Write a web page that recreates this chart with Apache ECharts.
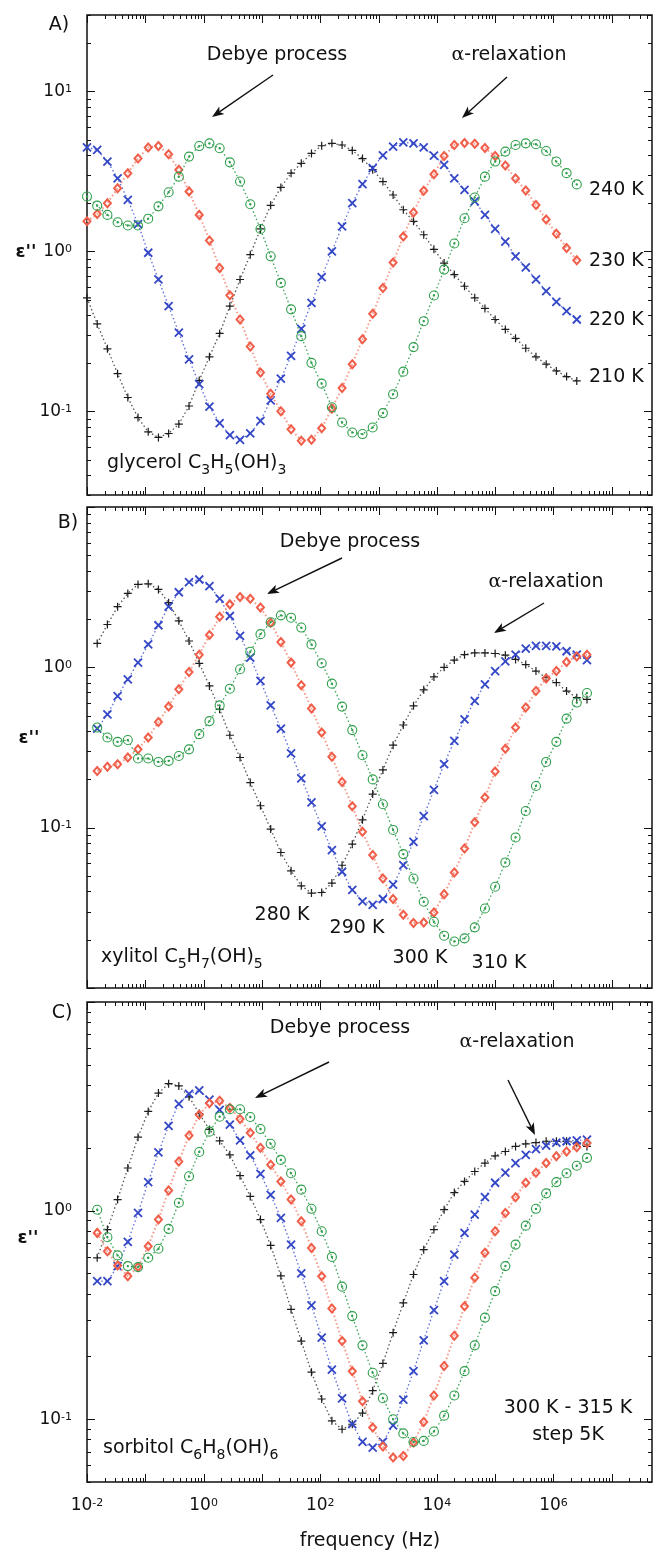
<!DOCTYPE html>
<html>
<head>
<meta charset="utf-8">
<title>dielectric loss of polyalcohols</title>
<script src="https://cdn.jsdelivr.net/npm/echarts@6/dist/echarts.min.js"></script>
<style>
html, body { margin: 0; padding: 0; background: #fff; }
#chart { width: 654px; height: 1552px; }
</style>
</head>
<body>
<div id="chart"></div>
<script>
// measured frequencies (Hz), same grid for every run
const freq = [0.01, 0.01496, 0.02239, 0.0335, 0.05012, 0.07499, 0.1122, 0.1679, 0.2512, 0.3758,
  0.5623, 0.8414, 1.259, 1.884, 2.818, 4.217, 6.31, 9.441, 14.13, 21.13,
  31.62, 47.32, 70.79, 105.9, 158.5, 237.1, 354.8, 530.9, 794.3, 1189,
  1778, 2661, 3981, 5957, 8913, 13340, 19950, 29850, 44670, 66830,
  100000, 149600, 223900, 335000, 501200, 749900, 1122000, 1679000, 2512000, 3758000]
const freqA = freq.slice(0, 49)
const freqBC = freq.slice(1, 50)

// A) glycerol
const glycerol210 = [0.512, 0.352, 0.246, 0.172, 0.122, 0.0914, 0.0745, 0.0687, 0.0727, 0.0832, 0.108, 0.156, 0.219, 0.307, 0.454, 0.667, 0.953, 1.38, 1.94, 2.51, 3.08, 3.55, 4.09, 4.57, 4.73, 4.62, 4.27, 3.80, 3.24, 2.73, 2.25, 1.82, 1.54, 1.27, 1.03, 0.845, 0.716, 0.605, 0.512, 0.44, 0.375, 0.325, 0.286, 0.248, 0.219, 0.197, 0.179, 0.165, 0.155]
const glycerol220 = [4.47, 4.31, 3.64, 2.86, 2.10, 1.48, 0.98, 0.667, 0.454, 0.31, 0.211, 0.148, 0.107, 0.0843, 0.071, 0.0664, 0.0728, 0.0873, 0.117, 0.16, 0.222, 0.328, 0.476, 0.689, 1.0, 1.43, 2.0, 2.63, 3.31, 3.98, 4.51, 4.80, 4.73, 4.47, 3.96, 3.47, 2.86, 2.42, 2.05, 1.69, 1.38, 1.15, 0.931, 0.794, 0.667, 0.564, 0.483, 0.423, 0.375]
const glycerol230 = [1.54, 1.71, 2.0, 2.48, 3.08, 3.81, 4.45, 4.55, 4.04, 3.23, 2.37, 1.69, 1.17, 0.787, 0.532, 0.375, 0.254, 0.175, 0.129, 0.1, 0.0774, 0.0655, 0.0664, 0.0785, 0.104, 0.14, 0.197, 0.282, 0.407, 0.59, 0.853, 1.24, 1.75, 2.39, 3.03, 3.94, 4.62, 4.75, 4.70, 4.42, 3.94, 3.44, 2.85, 2.40, 1.95, 1.58, 1.29, 1.05, 0.881]
const glycerol240 = [2.20, 1.93, 1.69, 1.52, 1.45, 1.45, 1.60, 1.91, 2.34, 2.93, 3.91, 4.55, 4.73, 4.41, 3.60, 2.73, 1.97, 1.38, 0.931, 0.635, 0.434, 0.295, 0.201, 0.149, 0.106, 0.0851, 0.0738, 0.0721, 0.0793, 0.0975, 0.128, 0.177, 0.252, 0.366, 0.53, 0.769, 1.12, 1.61, 2.17, 2.93, 3.64, 4.20, 4.62, 4.73, 4.67, 4.24, 3.64, 3.08, 2.62]

// B) xylitol
const xylitol280 = [1.41, 1.85, 2.39, 2.89, 3.29, 3.32, 3.06, 2.53, 1.95, 1.46, 1.06, 0.766, 0.547, 0.377, 0.274, 0.191, 0.137, 0.098, 0.07, 0.0538, 0.0434, 0.0391, 0.0394, 0.0451, 0.0583, 0.0789, 0.112, 0.162, 0.229, 0.327, 0.437, 0.575, 0.724, 0.871, 1.0, 1.11, 1.2, 1.23, 1.23, 1.22, 1.19, 1.12, 1.04, 0.948, 0.863, 0.803, 0.711, 0.647, 0.631]
const xylitol290 = [0.415, 0.509, 0.662, 0.841, 1.07, 1.39, 1.83, 2.39, 2.94, 3.40, 3.53, 3.21, 2.68, 2.09, 1.57, 1.15, 0.822, 0.579, 0.415, 0.291, 0.203, 0.144, 0.102, 0.0724, 0.0531, 0.0409, 0.0347, 0.033, 0.0359, 0.0441, 0.0583, 0.0815, 0.118, 0.172, 0.249, 0.348, 0.474, 0.617, 0.783, 0.948, 1.09, 1.2, 1.31, 1.36, 1.36, 1.35, 1.26, 1.2, 1.11]
const xylitol300 = [0.226, 0.24, 0.249, 0.274, 0.308, 0.365, 0.456, 0.569, 0.73, 0.936, 1.2, 1.59, 2.07, 2.47, 2.75, 2.68, 2.36, 1.9, 1.44, 1.07, 0.773, 0.553, 0.392, 0.277, 0.193, 0.136, 0.0942, 0.0675, 0.0482, 0.0359, 0.0286, 0.0254, 0.0256, 0.0296, 0.0385, 0.0526, 0.0741, 0.108, 0.154, 0.224, 0.311, 0.421, 0.561, 0.711, 0.851, 0.948, 1.08, 1.17, 1.2]
const xylitol310 = [0.421, 0.365, 0.343, 0.352, 0.27, 0.27, 0.257, 0.261, 0.28, 0.308, 0.383, 0.462, 0.579, 0.736, 0.973, 1.25, 1.61, 1.91, 2.11, 2.04, 1.77, 1.39, 1.06, 0.791, 0.569, 0.406, 0.283, 0.2, 0.14, 0.0968, 0.0684, 0.0482, 0.0345, 0.0259, 0.0212, 0.0195, 0.0204, 0.0239, 0.0313, 0.0428, 0.0607, 0.0869, 0.127, 0.182, 0.257, 0.343, 0.479, 0.603, 0.692]

// C) sorbitol, 300 K - 315 K step 5 K
const sorbitol300 = [0.594, 0.811, 1.13, 1.60, 2.25, 2.99, 3.66, 4.06, 3.96, 3.51, 2.92, 2.45, 2.16, 1.85, 1.47, 1.17, 0.906, 0.681, 0.487, 0.336, 0.237, 0.168, 0.125, 0.0982, 0.0895, 0.0946, 0.107, 0.137, 0.185, 0.26, 0.361, 0.494, 0.65, 0.811, 1.01, 1.22, 1.38, 1.54, 1.69, 1.83, 1.92, 2.03, 2.09, 2.12, 2.15, 2.15, 2.15, 2.11, 2.03]
const sorbitol305 = [0.459, 0.459, 0.542, 0.708, 0.975, 1.37, 1.90, 2.55, 3.25, 3.63, 3.77, 3.40, 3.04, 2.58, 2.17, 1.84, 1.50, 1.19, 0.923, 0.687, 0.5, 0.351, 0.246, 0.173, 0.126, 0.0946, 0.0778, 0.0731, 0.0778, 0.0935, 0.124, 0.17, 0.239, 0.333, 0.459, 0.615, 0.782, 0.957, 1.16, 1.36, 1.52, 1.69, 1.85, 1.97, 2.05, 2.12, 2.15, 2.17, 2.19]
const sorbitol310 = [0.782, 0.638, 0.546, 0.485, 0.536, 0.675, 0.906, 1.25, 1.72, 2.29, 2.88, 3.27, 3.36, 3.10, 2.75, 2.36, 2.0, 1.66, 1.38, 1.13, 0.889, 0.662, 0.485, 0.339, 0.237, 0.17, 0.122, 0.0912, 0.074, 0.0655, 0.0667, 0.0773, 0.097, 0.13, 0.18, 0.251, 0.348, 0.476, 0.628, 0.796, 0.975, 1.16, 1.36, 1.52, 1.69, 1.82, 1.92, 2.01, 2.11]
const sorbitol315 = [1.01, 0.745, 0.61, 0.542, 0.536, 0.594, 0.656, 0.817, 1.09, 1.46, 1.91, 2.39, 2.82, 3.06, 3.06, 2.81, 2.46, 2.09, 1.75, 1.51, 1.26, 1.02, 0.796, 0.6, 0.432, 0.312, 0.226, 0.167, 0.126, 0.1, 0.0855, 0.0778, 0.0787, 0.0873, 0.104, 0.13, 0.17, 0.226, 0.307, 0.411, 0.542, 0.687, 0.847, 1.02, 1.21, 1.37, 1.51, 1.64, 1.79]

// axis ranges and labelled decades
const xRange = [0.01, 4.9e7]
const xLabelExp = [-2, 0, 2, 4, 6]
const yRanges = [[0.03, 30], [0.01, 10], [0.05, 10]]
const yLabelExp = [[-1, 0, 1], [-1, 0], [-1, 0]]

const FONT = '"DejaVu Sans", sans-serif'
const grids = [
  { left: 87, right: 2, top: 15, height: 480 },
  { left: 87, right: 2, top: 507, height: 481 },
  { left: 87, right: 2, top: 1002, height: 480 }
]

const markers = [
  { symbol: 'path://M5,0L5,10M0,5L10,5', size: 8, color: '#1c1c1c', line: '#555', bw: 1.2, lw: 1.3 },
  { symbol: 'path://M0,0L10,10M10,0L0,10', size: 8, color: '#3346c6', line: '#5d6cd8', bw: 1.8, lw: 1.3 },
  { symbol: 'diamond', size: [7, 8], color: '#f05e4a', line: '#f59a8a', bw: 2, lw: 2 },
  { symbol: 'path://M10,5A5,5 0 1 1 0,5A5,5 0 1 1 10,5ZM5.7,5A0.7,0.7 0 1 1 4.3,5A0.7,0.7 0 1 1 5.7,5Z', size: 9, color: '#2e9e4a', line: '#3aa356', bw: 1.1, lw: 1.3 }
]

function curve(name, freqs, vals, gi, m) {
  const mk = markers[m]
  return {
    name: name,
    type: 'line',
    xAxisIndex: gi,
    yAxisIndex: gi,
    data: freqs.map((f, i) => [f, vals[i]]),
    symbol: mk.symbol,
    symbolSize: mk.size,
    showAllSymbol: true,
    itemStyle: { color: 'rgba(0,0,0,0)', borderColor: mk.color, borderWidth: mk.bw },
    lineStyle: { color: mk.line, width: mk.lw, type: [1.5, 2.5] },
    emphasis: { disabled: true },
    animation: false,
    z: 2 + m
  }
}

// log ticks (decade + 2..9) drawn on all four sides
function tickData(yr) {
  const out = []
  for (let e = -3; e <= 8; e++) {
    for (let k = 1; k <= 9; k++) {
      const v = +(k * Math.pow(10, e)).toPrecision(6)
      if (v >= xRange[0] && v <= xRange[1]) out.push([v, 1, k === 1 ? 1 : 2])
      if (v >= yr[0] && v <= yr[1]) out.push([1, v, k === 1 ? 3 : 4])
    }
  }
  return out
}

function renderTick(params, api) {
  const cs = params.coordSys
  const kind = api.value(2)
  const pt = api.coord([api.value(0), api.value(1)])
  const style = { stroke: '#111', lineWidth: 1 }
  const len = kind === 1 || kind === 3 ? 8 : 4
  if (kind <= 2) {
    const x = Math.round(pt[0]) + 0.5
    const b = cs.y + cs.height
    return { type: 'group', children: [
      { type: 'line', shape: { x1: x, y1: b, x2: x, y2: b - len }, style: style },
      { type: 'line', shape: { x1: x, y1: cs.y, x2: x, y2: cs.y + len }, style: style }
    ] }
  }
  const y = Math.round(pt[1]) + 0.5
  const r = cs.x + cs.width
  return { type: 'group', children: [
    { type: 'line', shape: { x1: cs.x, y1: y, x2: cs.x + len, y2: y }, style: style },
    { type: 'line', shape: { x1: r, y1: y, x2: r - len, y2: y }, style: style }
  ] }
}

function powFormatter(exps) {
  return function (v) {
    const lg = Math.log10(v)
    const e = Math.round(lg)
    if (Math.abs(lg - e) > 1e-6 || exps.indexOf(e) < 0) return ''
    return '{b|10}{s|' + e + '}'
  }
}
const powRich = {
  b: { fontSize: 17, fontFamily: FONT, color: '#111', lineHeight: 16 },
  s: { fontSize: 11, fontFamily: FONT, color: '#111', lineHeight: 10, verticalAlign: 'top' }
}

function arrow(x1, y1, x2, y2) {
  const a = Math.atan2(y2 - y1, x2 - x1)
  const L = 12
  const W = 4.5
  const bx = x2 - L * Math.cos(a)
  const by = y2 - L * Math.sin(a)
  const nx = -Math.sin(a) * W
  const ny = Math.cos(a) * W
  return [
    { type: 'line', z: 100, shape: { x1: x1, y1: y1, x2: bx + Math.cos(a) * 3, y2: by + Math.sin(a) * 3 }, style: { stroke: '#111', lineWidth: 1.4 } },
    { type: 'polygon', z: 100, shape: { points: [[x2, y2], [bx + nx, by + ny], [bx + Math.cos(a) * 3, by + Math.sin(a) * 3], [bx - nx, by - ny]] }, style: { fill: '#111' } }
  ]
}

const subRich = {
  s: { fontSize: 14, lineHeight: 12, verticalAlign: 'bottom', fontFamily: FONT, fill: '#111' },
  g: { fontSize: 19, fontFamily: '"DejaVu Serif", serif', fill: '#111' }
}
function label(text, x, y, extra) {
  return {
    type: 'text', x: x, y: y, z: 100,
    style: Object.assign({
      text: text, fill: '#111', fontSize: 19, fontFamily: FONT, lineHeight: 28,
      align: 'center', verticalAlign: 'middle', textAlign: 'center', textVerticalAlign: 'middle',
      rich: subRich
    }, extra || {})
  }
}
const leftAlign = { align: 'left', textAlign: 'left' }

const tempsA = ['240 K', '230 K', '220 K', '210 K']
const tempsB = ['280 K', '290 K', '300 K', '310 K']

const graphics = [
  label('A)', 59, 25),
  label('B)', 68, 523),
  label('C)', 62, 1013),
  label("ε''", 26, 252, { fontWeight: 'bold', fontSize: 18 }),
  label("ε''", 29, 738, { fontWeight: 'bold', fontSize: 18 }),
  label("ε''", 28, 1238, { fontWeight: 'bold', fontSize: 18 }),

  label('Debye process', 277, 55),
  label('{g|α}-relaxation', 509, 55),
  label(tempsA[0], 589, 190, leftAlign),
  label(tempsA[1], 589, 261, leftAlign),
  label(tempsA[2], 589, 320, leftAlign),
  label(tempsA[3], 589, 377, leftAlign),
  label('glycerol C{s|3}H{s|5}(OH){s|3}', 107, 463, leftAlign),

  label('Debye process', 350, 542),
  label('{g|α}-relaxation', 546, 582),
  label(tempsB[0], 282, 915),
  label(tempsB[1], 357, 928),
  label(tempsB[2], 420, 958),
  label(tempsB[3], 499, 963),
  label('xylitol C{s|5}H{s|7}(OH){s|5}', 101, 957, leftAlign),

  label('Debye process', 340, 1028),
  label('{g|α}-relaxation', 517, 1042),
  label('300 K - 315 K', 568, 1408),
  label('step 5K', 568, 1435),
  label('sorbitol C{s|6}H{s|8}(OH){s|6}', 103, 1448, leftAlign),
  label('frequency (Hz)', 370, 1541)
].concat(
  arrow(273, 75, 212, 117),
  arrow(507, 77, 462, 118),
  arrow(342, 558, 267, 594),
  arrow(544, 603, 494, 633),
  arrow(329, 1062, 255, 1098),
  arrow(508, 1080, 535, 1135)
)

const series = [
  curve('210 K', freqA, glycerol210, 0, 0),
  curve('220 K', freqA, glycerol220, 0, 1),
  curve('230 K', freqA, glycerol230, 0, 2),
  curve('240 K', freqA, glycerol240, 0, 3),
  curve('280 K', freqBC, xylitol280, 1, 0),
  curve('290 K', freqBC, xylitol290, 1, 1),
  curve('300 K', freqBC, xylitol300, 1, 2),
  curve('310 K', freqBC, xylitol310, 1, 3),
  curve('300 K', freqBC, sorbitol300, 2, 0),
  curve('305 K', freqBC, sorbitol305, 2, 1),
  curve('310 K', freqBC, sorbitol310, 2, 2),
  curve('315 K', freqBC, sorbitol315, 2, 3)
]
yRanges.forEach((yr, gi) => {
  series.push({
    type: 'custom',
    xAxisIndex: gi,
    yAxisIndex: gi,
    silent: true,
    animation: false,
    encode: { x: 0, y: 1 },
    data: tickData(yr),
    renderItem: renderTick,
    z: 10
  })
})

const chart = echarts.init(document.getElementById('chart'), null, { renderer: 'canvas' })
chart.setOption({
  backgroundColor: '#ffffff',
  animation: false,
  grid: grids.map(g => Object.assign({
    show: true, borderColor: '#111', borderWidth: 1.5, backgroundColor: 'transparent',
    containLabel: false, outerBoundsMode: 'none'
  }, g)),
  xAxis: grids.map((g, gi) => ({
    type: 'log',
    logBase: 10,
    gridIndex: gi,
    min: xRange[0],
    max: xRange[1],
    splitNumber: 10,
    axisLine: { show: false },
    axisTick: { show: false },
    splitLine: { show: false },
    axisLabel: {
      show: gi === 2,
      margin: 16,
      formatter: powFormatter(xLabelExp),
      rich: powRich,
      showMinLabel: true,
      showMaxLabel: true,
      hideOverlap: false
    }
  })),
  yAxis: grids.map((g, gi) => ({
    type: 'log',
    logBase: 10,
    gridIndex: gi,
    min: yRanges[gi][0],
    max: yRanges[gi][1],
    splitNumber: 5,
    axisLine: { show: false },
    axisTick: { show: false },
    splitLine: { show: false },
    axisLabel: {
      margin: 15,
      formatter: powFormatter(yLabelExp[gi]),
      rich: powRich,
      hideOverlap: false
    }
  })),
  series: series,
  graphic: { elements: graphics }
})
</script>
</body>
</html>
